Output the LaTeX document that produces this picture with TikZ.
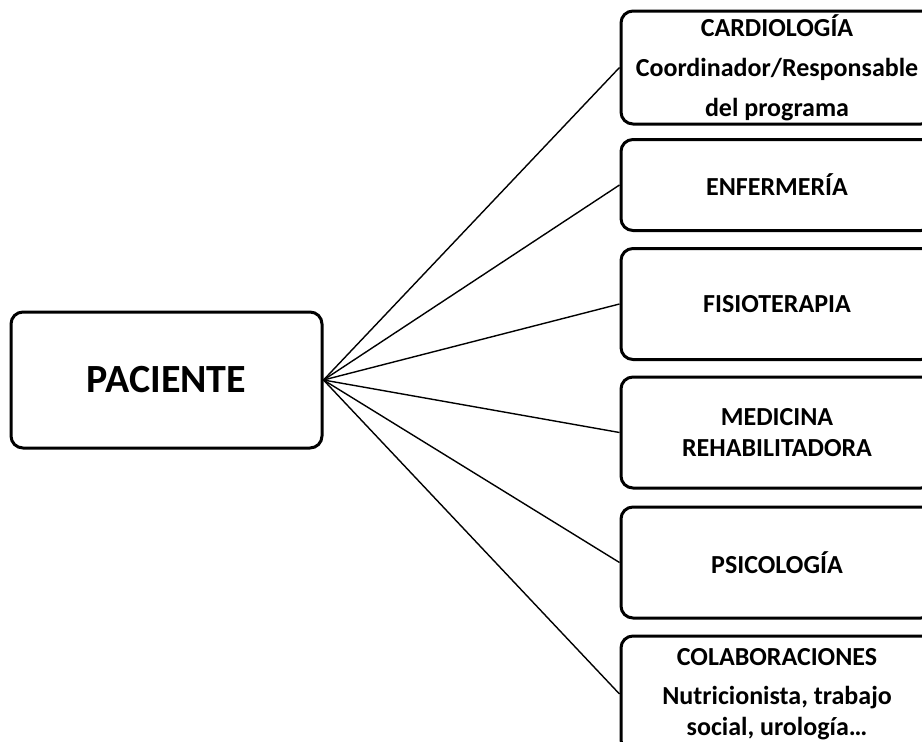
\documentclass[tikz,border=0pt]{standalone}
\usepackage{fontspec}
\setmainfont{Carlito}

\begin{document}
\begin{tikzpicture}[x=1pt, y=-1pt,
    box/.style={draw, line width=3pt, rounded corners=12pt, align=center,
        inner sep=0pt, font=\bfseries\fontsize{26}{31}\selectfont},
    area/.style={box, minimum width=312pt}]
            \useasboundingbox (0,0) rectangle (922,742);
            \clip (0,0) rectangle (922,742);
            % paciente
            \node[box, minimum width=311pt, minimum height=136pt,
                font=\bfseries\fontsize{40}{46}\selectfont] (paciente) at (166.5,380) {PACIENTE};
            % areas
            \node[area, minimum height=113pt,
                font=\bfseries\fontsize{26}{40}\selectfont] (cardio) at (777,67.5)
                {CARDIOLOGÍA\\Coordinador/Responsable\\del programa};
            \node[area, minimum height=91pt] (enfer) at (777,185) {ENFERMERÍA};
            \node[area, minimum height=111pt] (fisio) at (777,304) {FISIOTERAPIA};
            \node[area, minimum height=111pt] (medic) at (777,432.5) {MEDICINA\\REHABILITADORA};
            \node[area, minimum height=111pt] (psico) at (777,562.5) {PSICOLOGÍA};
            \node[area, minimum height=116pt] (colab) at (777,694)
                {COLABORACIONES\\[8pt]Nutricionista, trabajo\\social, urología\dots};
            % lineas
            \foreach \n in {cardio,enfer,fisio,medic,psico,colab}
                \draw[line width=1.4pt] (paciente.east) -- (\n.west);
\end{tikzpicture}
\end{document}
